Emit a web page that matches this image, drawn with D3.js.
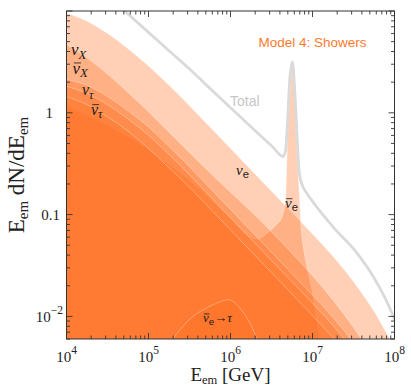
<!DOCTYPE html>
<html>
<head>
<meta charset="utf-8">
<script src="https://cdn.jsdelivr.net/npm/d3@7"></script>
<style>
  body { margin: 0; background: #fff; }
  svg { display: block; }
  text { font-family: 'Liberation Serif', 'Times New Roman', serif; }
</style>
</head>
<body>
<svg class="chart" width="411" height="387"></svg>
<script>
const WIDTH = 411;
const HEIGHT = 387;
const MARGIN = { left: 66.5, right: 16.5, top: 11, bottom: 48 };

// log10(E_em / GeV) grid shared by the smooth components
const logE = [4, 4.25, 4.5, 4.75, 5, 5.25, 5.5, 5.75, 6, 6.25, 6.5, 6.75, 7, 7.25, 7.5, 7.75, 8];

// log10(E dN/dE)
const nuE = [0.98, 0.90, 0.78, 0.63, 0.46, 0.27, 0.07, -0.14, -0.35, -0.56, -0.77, -0.98, -1.19, -1.41, -1.66, -1.95, -2.31];
const nuX = [0.67, 0.54, 0.38, 0.20, 0.01, -0.19, -0.39, -0.59, -0.78, -0.97, -1.17, -1.38, -1.60, -1.84, -2.11, -2.42, -2.81];
const nuXbar = [0.33, 0.27, 0.16, 0.02, -0.14, -0.33, -0.53, -0.74, -0.95, -1.16, -1.37, -1.58, -1.79, -2.01, -2.26, -2.56, -2.93];
const nuTau = [0.26, 0.19, 0.08, -0.06, -0.22, -0.41, -0.61, -0.82, -1.03, -1.24, -1.45, -1.66, -1.87, -2.09, -2.34, -2.63, -2.99];
const nuTauBar = [0.16, 0.08, -0.04, -0.18, -0.35, -0.54, -0.73, -0.94, -1.15, -1.36, -1.57, -1.78, -1.99, -2.21, -2.46, -2.75, -3.11];

// anti-nu_e with the Glashow resonance
const logEBarE = [4, 4.5, 5, 5.5, 6, 6.2, 6.33, 6.45, 6.56, 6.63, 6.67, 6.7, 6.725, 6.755, 6.785, 6.8, 6.843, 6.86, 6.89, 6.925, 7.01, 7.07, 7.15, 7.25];
const nuEBar = [0.07, -0.12, -0.36, -0.66, -1.04, -1.2, -1.24, -1.18, -1.1, -1.02, -0.86, -0.17, 0.2, 0.5, 0.15, -0.17, -0.86, -1.12, -1.33, -1.48, -1.81, -2.13, -2.5, -2.9];

// anti-nu_e -> tau bump
const logEBarETau = [5.1, 5.3, 5.544, 5.833, 6.0, 6.18, 6.32, 6.45];
const nuEBarTau = [-2.5, -2.22, -2.0, -1.87, -1.84, -1.99, -2.22, -2.6];

// total
const logETotal = [4.6, 4.71, 5.0, 5.25, 5.5, 5.75, 6.0, 6.2, 6.4, 6.52, 6.6, 6.64, 6.67, 6.695, 6.72, 6.755, 6.785, 6.81, 6.84, 6.88, 6.93, 7.0, 7.25, 7.545, 7.75, 7.97, 8.0];
const total = [1.08, 1.0, 0.79, 0.61, 0.43, 0.24, 0.05, -0.1, -0.25, -0.34, -0.41, -0.43, -0.38, -0.1, 0.3, 0.5, 0.2, -0.2, -0.6, -0.72, -0.79, -0.87, -1.12, -1.38, -1.62, -1.97, -2.03];

const xDomain = [1e4, 1e8];
const yDomain = [0.006, 10];
const xTickExp = [4, 5, 6, 7, 8];

const toPoints = (es, vs) => es.map((e, i) => ({ e: 10 ** e, f: 10 ** vs[i] }));

const smooth = d3.curveCatmullRom.alpha(0.5);
const components = [
  { pts: toPoints(logE, nuE), curve: smooth },
  { pts: toPoints(logEBarE, nuEBar), curve: d3.curveMonotoneX },
  { pts: toPoints(logE, nuX), curve: smooth },
  { pts: toPoints(logE, nuXbar), curve: smooth },
  { pts: toPoints(logE, nuTau), curve: smooth },
  { pts: toPoints(logE, nuTauBar), curve: smooth },
  { pts: toPoints(logEBarETau, nuEBarTau), curve: smooth },
];

const x = d3.scaleLog().domain(xDomain).range([MARGIN.left, WIDTH - MARGIN.right]);
const y = d3.scaleLog().domain(yDomain).range([HEIGHT - MARGIN.bottom, MARGIN.top]);
const x0 = MARGIN.left;
const x1 = WIDTH - MARGIN.right;
const y0 = HEIGHT - MARGIN.bottom;
const y1 = MARGIN.top;

const svg = d3.select('.chart');

svg.append('defs').append('clipPath').attr('id', 'plot-clip')
  .append('rect')
  .attr('x', x0).attr('y', y1)
  .attr('width', x1 - x0).attr('height', y0 - y1);

const plot = svg.append('g').attr('clip-path', 'url(#plot-clip)');

components.forEach((c) => {
  const area = d3.area()
    .x((d) => x(d.e))
    .y0(y0 + 20)
    .y1((d) => y(d.f))
    .curve(c.curve);
  plot.append('path')
    .attr('d', area(c.pts))
    .style('fill', '#ff6e1e')
    .style('fill-opacity', 0.325)
    .style('stroke', '#ffffff')
    .style('stroke-opacity', 0.35)
    .style('stroke-width', 0.9);
});

const line = d3.line()
  .x((d) => x(d.e))
  .y((d) => y(d.f))
  .curve(d3.curveMonotoneX);

plot.append('path')
  .attr('d', line(toPoints(logETotal, total)))
  .style('fill', 'none')
  .style('stroke', '#dadada')
  .style('stroke-width', 2.8);

// frame and ticks
const axisColor = '#333';
svg.append('rect')
  .attr('x', x0).attr('y', y1)
  .attr('width', x1 - x0).attr('height', y0 - y1)
  .style('fill', 'none')
  .style('stroke', axisColor)
  .style('stroke-width', 1);

const isMajor = (v) => Math.abs(Math.log10(v) - Math.round(Math.log10(v))) < 1e-6;
const ticks = svg.append('g').style('stroke', axisColor).style('stroke-width', 0.9);

x.ticks().forEach((t) => {
  const len = isMajor(t) ? 6 : 3.5;
  const px = x(t);
  ticks.append('line').attr('x1', px).attr('x2', px).attr('y1', y0).attr('y2', y0 - len);
  ticks.append('line').attr('x1', px).attr('x2', px).attr('y1', y1).attr('y2', y1 + len);
});

y.ticks().forEach((t) => {
  const len = isMajor(t) ? 6 : 3.5;
  const py = y(t);
  ticks.append('line').attr('x1', x0).attr('x2', x0 + len).attr('y1', py).attr('y2', py);
  ticks.append('line').attr('x1', x1).attr('x2', x1 - len).attr('y1', py).attr('y2', py);
});

// x tick labels
xTickExp.forEach((p) => {
  const t = svg.append('text')
    .attr('x', x(10 ** p))
    .attr('y', y0 + 22.5)
    .attr('text-anchor', 'middle')
    .style('font-size', '15px')
    .style('fill', '#222');
  t.append('tspan').text('10');
  t.append('tspan').attr('dy', -7.5).style('font-size', '11.5px').text(p);
});

// y tick labels
svg.append('text').attr('x', 53).attr('y', y(1) + 5.3).attr('text-anchor', 'end')
  .style('font-size', '15px').style('fill', '#222').text('1');
svg.append('text').attr('x', 60).attr('y', y(0.1) + 5.3).attr('text-anchor', 'end')
  .style('font-size', '15px').style('fill', '#222').text('0.1');
const yt = svg.append('text').attr('x', 63).attr('y', y(0.01) + 5.3).attr('text-anchor', 'end')
  .style('font-size', '15px').style('fill', '#222');
yt.append('tspan').text('10');
yt.append('tspan').attr('dy', -7.5).style('font-size', '11.5px').text('\u22122');

// axis titles
const xt = svg.append('text')
  .attr('x', (x0 + x1) / 2)
  .attr('y', HEIGHT - 6.5)
  .attr('text-anchor', 'middle')
  .style('font-size', '19px')
  .style('fill', '#222');
xt.append('tspan').text('E');
xt.append('tspan').attr('dy', 3.5).style('font-size', '12.5px').text('em');
xt.append('tspan').attr('dy', -3.5).text(' [GeV]');

const ytt = svg.append('text')
  .attr('transform', `translate(24,${(y0 + y1) / 2}) rotate(-90)`)
  .attr('text-anchor', 'middle')
  .style('font-size', '23px')
  .style('fill', '#222');
ytt.append('tspan').text('E');
ytt.append('tspan').attr('dy', 4).style('font-size', '15px').text('em');
ytt.append('tspan').attr('dy', -4).text(' dN/dE');
ytt.append('tspan').attr('dy', 4).style('font-size', '15px').text('em');

// in-plot annotations
svg.append('text')
  .attr('x', 312.5).attr('y', 47)
  .attr('text-anchor', 'middle')
  .style('font-family', "'Liberation Sans', Arial, sans-serif")
  .style('font-size', '13.5px')
  .style('fill', '#ff7a2c')
  .text('Model 4: Showers');

svg.append('text')
  .attr('x', 230).attr('y', 106)
  .style('font-family', "'Liberation Sans', Arial, sans-serif")
  .style('font-size', '14px')
  .style('fill', '#c6c6c6')
  .text('Total');

function nuLabel(px, py, sub, bar, size, subItalic) {
  const g = svg.append('g');
  const t = g.append('text').attr('x', px).attr('y', py)
    .style('font-size', `${size}px`).style('fill', '#1a1a1a');
  t.append('tspan').style('font-style', 'italic').text('\u03bd');
  t.append('tspan').attr('dy', size * 0.22)
    .style('font-size', `${size * 0.75}px`)
    .style('font-style', subItalic ? 'italic' : 'normal')
    .style('font-family', subItalic ? null : "'Liberation Sans', Arial, sans-serif")
    .text(sub);
  if (bar) {
    g.append('line')
      .attr('x1', px + size * 0.08).attr('x2', px + size * 0.5)
      .attr('y1', py - size * 0.62).attr('y2', py - size * 0.62)
      .style('stroke', '#1a1a1a').style('stroke-width', 0.8);
  }
  return t;
}

nuLabel(71, 55, 'X', false, 17, true);
nuLabel(72.5, 73.5, 'X', true, 17, true);
nuLabel(82, 95, '\u03c4', false, 16, true);
nuLabel(91, 114.5, '\u03c4', true, 16, true);
nuLabel(236, 175, 'e', false, 15, false);
nuLabel(285, 208, 'e', true, 15, false);
const tauLab = nuLabel(203, 322, 'e', true, 13, false);
tauLab.append('tspan').attr('dy', -13 * 0.22).text('\u2192');
tauLab.append('tspan').style('font-style', 'italic').text('\u03c4');
</script>
</body>
</html>
